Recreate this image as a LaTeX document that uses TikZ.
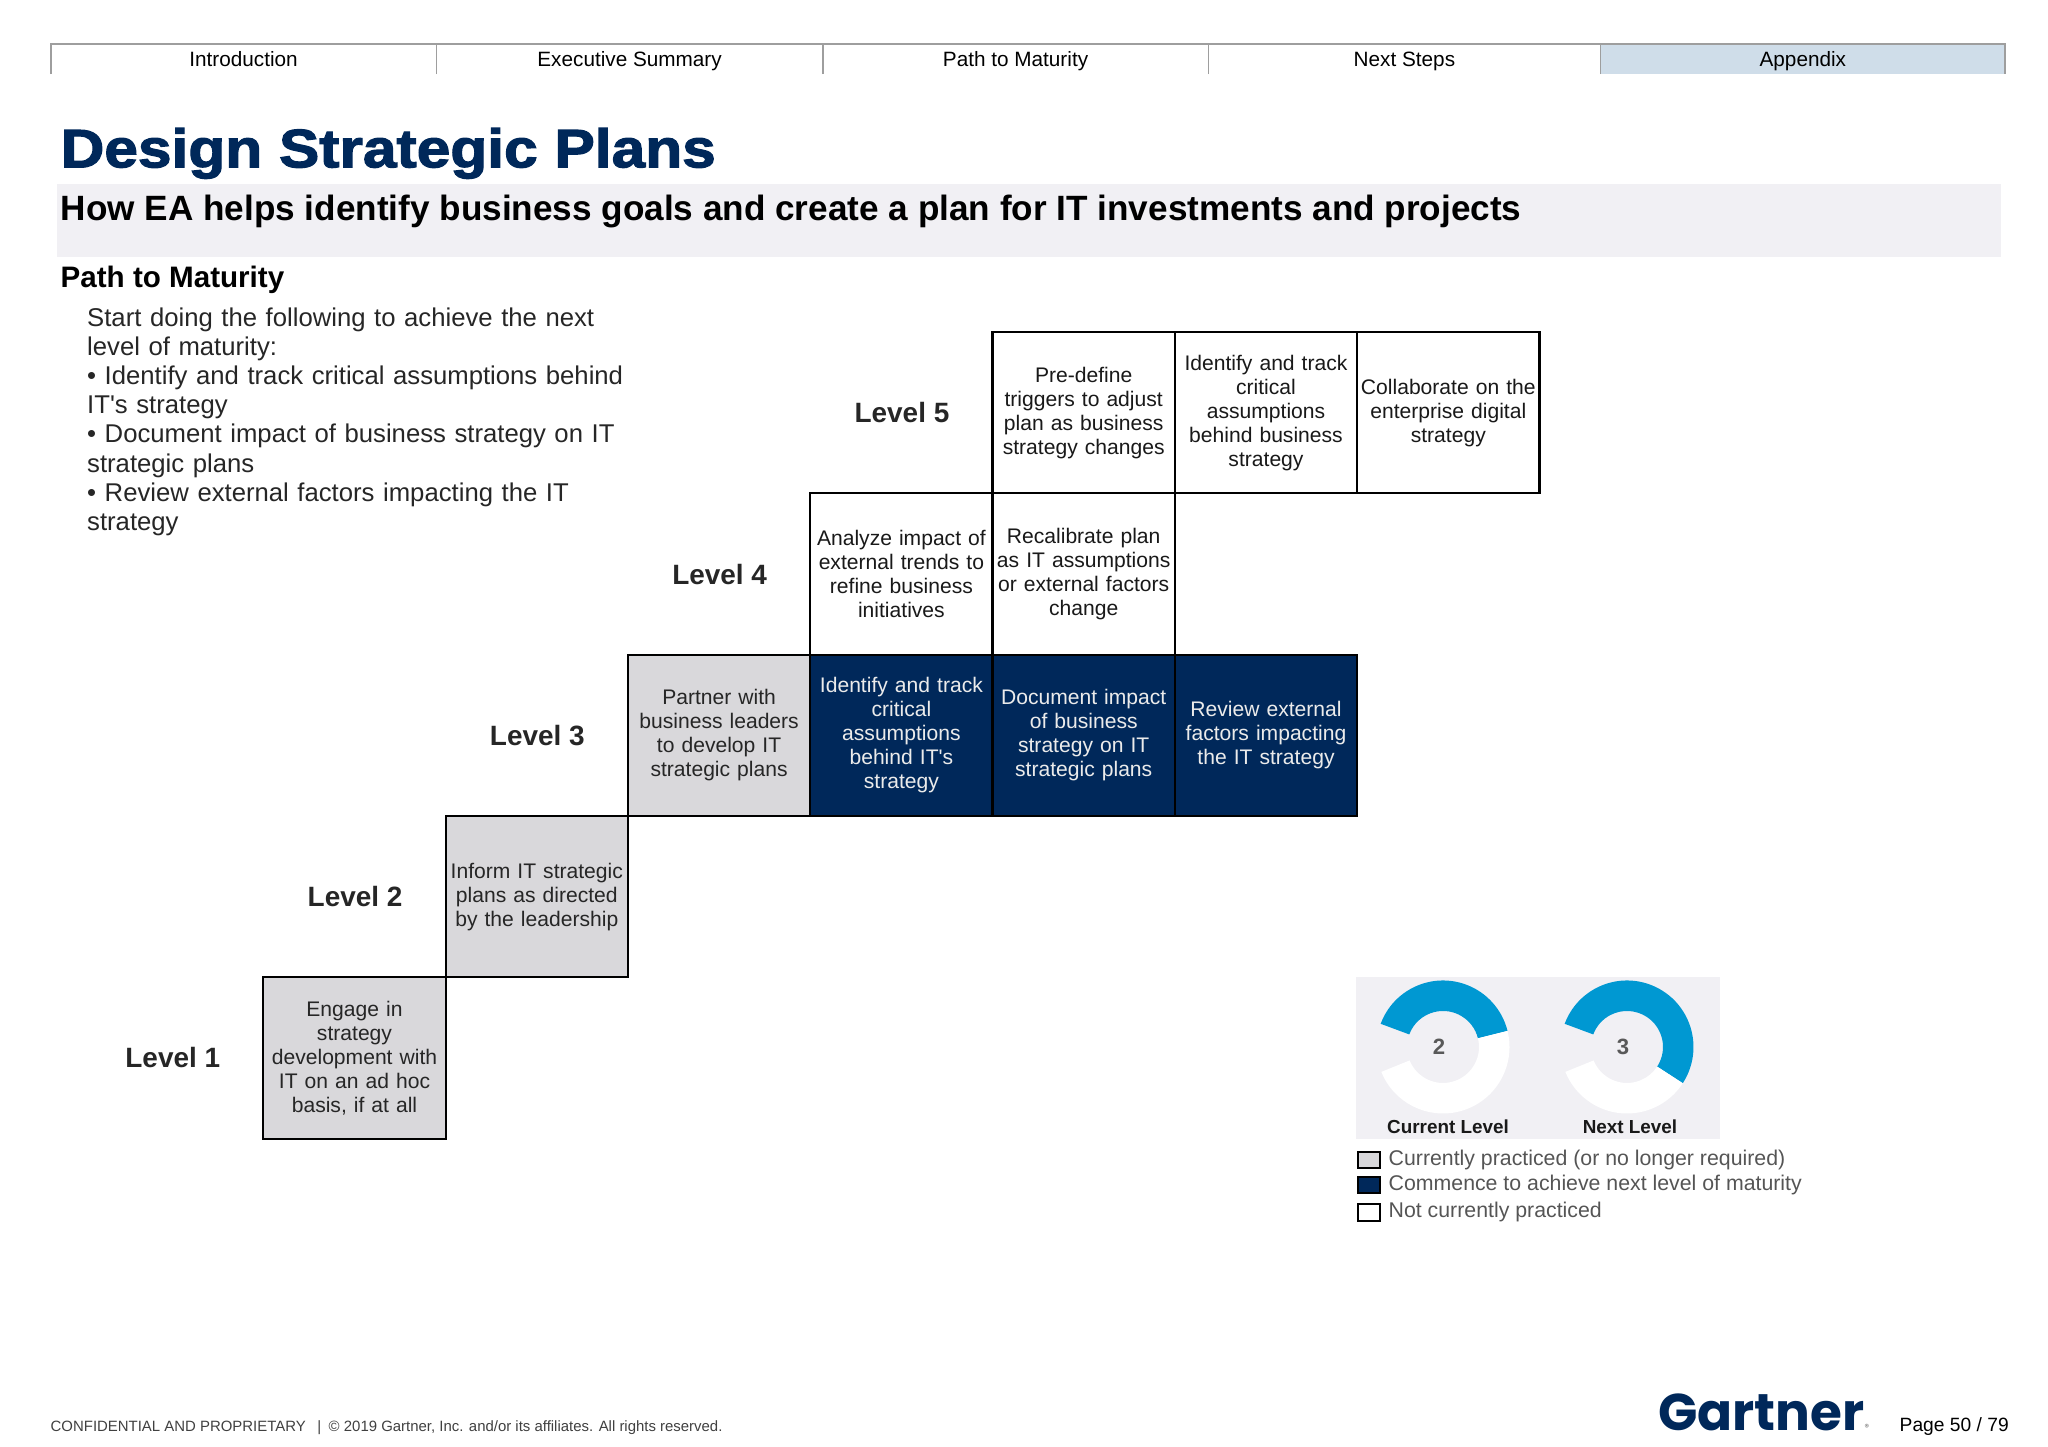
\documentclass[tikz,border=0pt]{standalone}
\usepackage{fontspec}
\setmainfont{Liberation Sans}
\newfontfamily\titlefont{Liberation Sans}[BoldFeatures={FakeBold=2.2,FakeStretch=1.117}]
\newfontfamily\logofont{Poppins}
\usetikzlibrary{positioning}
\definecolor{navyblue}{HTML}{00285A}
\definecolor{cellgray}{HTML}{D9D8DB}
\definecolor{bandgray}{HTML}{F1F0F4}
\definecolor{ringblue}{HTML}{0098D2}
\definecolor{tabblue}{HTML}{CFDDE9}
\definecolor{legendtext}{HTML}{555555}
\newcommand{\pxfont}[2]{\fontsize{#1}{#2}\selectfont}
\newcommand{\plainquote}{\XeTeXglyph\XeTeXcharglyph"27 }
\tikzset{
    tabitem/.style={minimum width=#1, minimum height=0.303cm, text height=0.21cm, text depth=0.05cm, inner sep=0pt, outer sep=0pt, font=\pxfont{5.9pt}{7pt}},
    tabline/.style={draw=black!38, line width=0.4pt},
    cellbox/.style={draw=black, line width=0.6pt, minimum width=1.823cm, minimum height=1.613cm, inner sep=0pt, outer sep=0pt, text width=1.8cm, align=center, font=\pxfont{6pt}{6.83pt}},
    cellold/.style={cellbox, fill=cellgray, text=black!85},
    cellnext/.style={cellbox, fill=navyblue, text=white!92!black},
    cellopen/.style={cellbox, fill=white, text=black!90},
    levelname/.style={font=\bfseries\pxfont{7.95pt}{9pt}, text=black!85, inner sep=0pt},
    swatch/.style={draw=black, line width=0.5pt, minimum width=0.22cm, minimum height=0.165cm, inner sep=0pt, outer sep=0pt},
    legendname/.style={inner sep=0pt, text=legendtext, font=\pxfont{6.06pt}{7pt}},
    ringnum/.style={text=black!65, font=\bfseries\pxfont{6.3pt}{7pt}, inner sep=0pt},
    ringname/.style={font=\bfseries\pxfont{5.37pt}{6pt}, text=black!90, inner sep=0pt},
}

\begin{document}
\begin{tikzpicture}
    \useasboundingbox (0,0) rectangle (20.48,14.47);

    % Tabs along the top
    \node[tabitem=3.854cm] (tabintro) at (2.436,13.88) {Introduction};
    \node[tabitem=3.866cm, right=0pt of tabintro] (tabsummary) {Executive Summary};
    \node[tabitem=3.853cm, right=0pt of tabsummary] (tabpath) {Path to Maturity};
    \node[tabitem=3.925cm, right=0pt of tabpath] (tabnext) {Next Steps};
    \node[tabitem=4.043cm, fill=tabblue, right=0pt of tabnext] (tabappendix) {Appendix};
    \draw[tabline] (tabintro.south west) |- (tabappendix.north east) -- (tabappendix.south east);
    \draw[tabline] (tabintro.south east) -- (tabintro.north east);
    \draw[tabline] (tabsummary.south east) -- (tabsummary.north east);
    \draw[tabline] (tabpath.south east) -- (tabpath.north east);
    \draw[tabline] (tabnext.south east) -- (tabnext.north east);

    % Heading block
    \node[anchor=base west, inner sep=0pt, text=navyblue, font=\titlefont\bfseries\pxfont{15.4pt}{17pt}] (title) at (0.60,12.797) {Design Strategic Plans};
    \node[fill=bandgray, minimum width=19.436cm, minimum height=0.727cm, inner sep=0pt] (band) at (10.29,12.265) {};
    \node[anchor=base west, inner sep=0pt, font=\bfseries\pxfont{10pt}{12pt}] (subtitle) at (0.60,12.267) {How EA helps identify business goals and create a plan for IT investments and projects};
    \node[anchor=base west, inner sep=0pt, font=\bfseries\pxfont{8.42pt}{10pt}] (pathhead) at (0.60,11.59) {Path to Maturity};
    \node[anchor=north west, inner sep=0pt, text width=6cm, align=left, text=black!85, font=\pxfont{7.31pt}{8.3pt}] (advice) at (0.865,11.40) {
        Start doing the following to achieve the next \\
        level of maturity: \\
        • Identify and track critical assumptions behind \\
        IT\plainquote s strategy \\
        • Document impact of business strategy on IT \\
        strategic plans \\
        • Review external factors impacting the IT \\
        strategy
    };

    % Staircase, from level 1 up
    \node[cellold] (one) at (3.545,3.89) {Engage in \\ strategy \\ development with \\ IT on an ad hoc \\ basis, if at all};
    \node[cellold, above right=0pt and 0pt of one] (two) {Inform IT strategic \\ plans as directed \\ by the leadership};
    \node[cellold, above right=0pt and 0pt of two] (three) {Partner with \\ business leaders \\ to develop IT \\ strategic plans};
    \node[cellnext, right=0pt of three] (threea) {Identify and track \\ critical \\ assumptions \\ behind IT\plainquote s \\ strategy};
    \node[cellnext, right=0pt of threea] (threeb) {Document impact \\ of business \\ strategy on IT \\ strategic plans};
    \node[cellnext, right=0pt of threeb] (threec) {Review external \\ factors impacting \\ the IT strategy};
    \node[cellopen, above=0pt of threea] (four) {Analyze impact of \\ external trends to \\ refine business \\ initiatives};
    \node[cellopen, right=0pt of four] (foura) {Recalibrate plan \\ as IT assumptions \\ or external factors \\ change};
    \node[cellopen, above=0pt of foura] (five) {Pre-define \\ triggers to adjust \\ plan as business \\ strategy changes};
    \node[cellopen, right=0pt of five] (fivea) {Identify and track \\ critical \\ assumptions \\ behind business \\ strategy};
    \node[cellopen, right=0pt of fivea] (fiveb) {Collaborate on the \\ enterprise digital \\ strategy};

    \node[levelname, left=0.425cm of one] (levelone) {Level 1};
    \node[levelname, left=0.425cm of two] (leveltwo) {Level 2};
    \node[levelname, left=0.425cm of three] (levelthree) {Level 3};
    \node[levelname, left=0.425cm of four] (levelfour) {Level 4};
    \node[levelname, left=0.425cm of five] (levelfive) {Level 5};

    % Current and next level rings
    \node[fill=bandgray, minimum width=3.644cm, minimum height=1.62cm, inner sep=0pt] (ringpanel) at (15.38,3.89) {};
    \coordinate (curring) at (14.43,4.00);
    \coordinate (nextring) at (16.27,4.00);
    \fill[ringblue] ([shift={(159.6:0.665)}]curring) arc[start angle=159.6, end angle=14, radius=0.665] -- ([shift={(14:0.36)}]curring) arc[start angle=14, end angle=159.6, radius=0.36] -- cycle;
    \fill[white] ([shift={(14:0.665)}]curring) arc[start angle=14, end angle=-158, radius=0.665] -- ([shift={(-158:0.36)}]curring) arc[start angle=-158, end angle=14, radius=0.36] -- cycle;
    \fill[ringblue] ([shift={(159.6:0.665)}]nextring) arc[start angle=159.6, end angle=-33, radius=0.665] -- ([shift={(-33:0.36)}]nextring) arc[start angle=-33, end angle=159.6, radius=0.36] -- cycle;
    \fill[white] ([shift={(-33:0.665)}]nextring) arc[start angle=-33, end angle=-158, radius=0.665] -- ([shift={(-158:0.36)}]nextring) arc[start angle=-158, end angle=-33, radius=0.36] -- cycle;
    \node[ringnum] (curnum) at (14.39,4.00) {2};
    \node[ringnum] (nextnum) at (16.23,4.00) {3};
    \node[ringname] (curname) at (14.48,3.205) {Current Level};
    \node[ringname] (nextname) at (16.30,3.205) {Next Level};

    % Legend
    \node[swatch, fill=cellgray] (keyold) at (13.69,2.87) {};
    \node[swatch, fill=navyblue] (keynext) at (13.69,2.62) {};
    \node[swatch, fill=white] (keyopen) at (13.69,2.345) {};
    \node[legendname, right=0.08cm of keyold] (oldtext) {Currently practiced (or no longer required)};
    \node[legendname, right=0.08cm of keynext] (nexttext) {Commence to achieve next level of maturity};
    \node[legendname, right=0.08cm of keyopen] (opentext) {Not currently practiced};

    % Footer
    \node[anchor=base west, inner sep=0pt, text=black!75, font=\pxfont{4.25pt}{5pt}] (legal) at (0.50,0.155) {CONFIDENTIAL AND PROPRIETARY \enspace|\enspace © 2019 Gartner, Inc. and/or its affiliates. All rights reserved.};
    \node[anchor=base west, inner sep=0pt, text=navyblue, font=\logofont\bfseries\pxfont{14.7pt}{17pt}] (logo) at (16.575,0.16) {Gartner\textcolor{black!45}{\pxfont{2.5pt}{3pt}®}};
    \node[anchor=base west, inner sep=0pt, font=\pxfont{5.47pt}{7pt}] (pagenum) at (18.99,0.155) {Page 50 / 79};
\end{tikzpicture}
\end{document}
